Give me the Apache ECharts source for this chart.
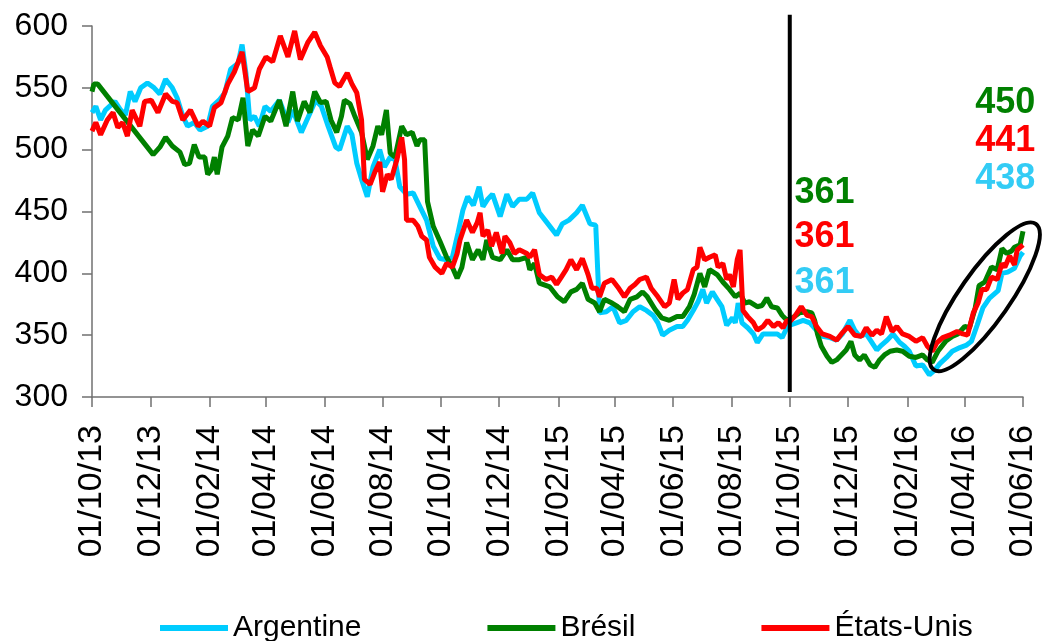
<!DOCTYPE html>
<html>
<head>
<meta charset="utf-8">
<script src="https://cdn.jsdelivr.net/npm/echarts@6/dist/echarts.min.js"></script>
<style>html,body{margin:0;padding:0;background:#fff}#chart{width:1043px;height:641px}</style>
</head>
<body>
<div id="chart"></div>
<script>
const seriesNames = ['Argentine', 'Brésil', 'États-Unis'];
const seriesColors = ['#00CCFF', '#008000', '#FF0000'];
const yTicks = [300, 350, 400, 450, 500, 550, 600];
const xTickDates = ['2013-10-01','2013-12-01','2014-02-01','2014-04-01','2014-06-01','2014-08-01','2014-10-01','2014-12-01','2015-02-01','2015-04-01','2015-06-01','2015-08-01','2015-10-01','2015-12-01','2016-02-01','2016-04-01','2016-06-01'];

const argentine = [
['2013-10-01',530],['2013-10-05',535],['2013-10-10',524],['2013-10-15',532],['2013-10-25',539],['2013-10-31',532],
['2013-11-05',528],['2013-11-10',547],['2013-11-15',539],['2013-11-21',550],['2013-11-28',554],['2013-12-05',550],
['2013-12-11',545],['2013-12-17',557],['2013-12-24',550],['2013-12-29',542],['2014-01-04',527],['2014-01-09',519],
['2014-01-16',522],['2014-01-22',516],['2014-01-30',519],['2014-02-04',535],['2014-02-11',540],['2014-02-17',546],
['2014-02-23',565],['2014-03-03',570],['2014-03-07',585],['2014-03-11',562],['2014-03-15',524],['2014-03-20',527],
['2014-03-25',519],['2014-03-31',535],['2014-04-06',531],['2014-04-15',540],['2014-04-24',522],['2014-04-29',532],
['2014-05-08',514],['2014-05-15',526],['2014-05-23',540],['2014-05-29',535],['2014-06-05',519],['2014-06-13',502],
['2014-06-17',500],['2014-06-25',519],['2014-06-30',512],['2014-07-05',489],['2014-07-10',476],['2014-07-16',462],
['2014-07-22',486],['2014-07-29',500],['2014-08-03',486],['2014-08-09',494],['2014-08-14',492],['2014-08-19',470],
['2014-08-26',464],['2014-09-02',465],['2014-09-09',454],['2014-09-16',443],['2014-09-23',422],['2014-09-30',412],
['2014-10-07',411],['2014-10-13',413],['2014-10-19',433],['2014-10-24',451],['2014-10-29',462],['2014-11-04',455],
['2014-11-10',470],['2014-11-14',454],['2014-11-19',460],['2014-11-24',464],['2014-12-02',446],['2014-12-09',464],
['2014-12-15',454],['2014-12-22',460],['2014-12-30',460],['2015-01-05',465],['2015-01-12',449],['2015-01-19',442],
['2015-01-30',431],['2015-02-05',440],['2015-02-12',443],['2015-02-20',449],['2015-02-26',455],['2015-03-06',440],
['2015-03-12',439],['2015-03-16',368],['2015-03-23',369],['2015-03-30',373],['2015-04-06',360],['2015-04-13',362],
['2015-04-20',369],['2015-04-27',373],['2015-05-04',370],['2015-05-11',366],['2015-05-16',360],['2015-05-21',350],
['2015-05-28',354],['2015-06-05',357],['2015-06-11',357],['2015-06-16',362],['2015-06-22',370],['2015-06-27',377],
['2015-07-02',387],['2015-07-06',376],['2015-07-12',385],['2015-07-17',379],['2015-07-22',373],['2015-07-27',358],
['2015-08-02',364],['2015-08-05',360],['2015-08-08',376],['2015-08-12',360],['2015-08-18',356],['2015-08-24',351],
['2015-08-28',344],['2015-09-03',351],['2015-09-10',351],['2015-09-18',351],['2015-09-23',348],['2015-09-28',356],
['2015-10-01',358],['2015-10-08',360],['2015-10-15',362],['2015-10-22',360],['2015-10-29',354],['2015-11-04',349],
['2015-11-12',348],['2015-11-19',346],['2015-11-25',351],['2015-12-03',362],['2015-12-08',354],['2015-12-13',349],
['2015-12-20',351],['2015-12-26',344],['2015-12-31',338],['2016-01-05',342],['2016-01-11',346],['2016-01-17',351],
['2016-01-24',344],['2016-01-29',341],['2016-02-03',337],['2016-02-10',325],['2016-02-17',326],['2016-02-24',318],
['2016-03-01',322],['2016-03-06',327],['2016-03-13',332],['2016-03-19',337],['2016-03-27',340],['2016-04-03',342],
['2016-04-08',345],['2016-04-14',358],['2016-04-20',372],['2016-04-27',380],['2016-05-06',386],['2016-05-10',400],
['2016-05-16',401],['2016-05-23',404],['2016-05-29',414],['2016-06-01',417]
];

const bresil = [
['2013-10-01',547],['2013-10-03',553],['2013-10-07',553],['2013-12-04',496],['2013-12-11',502],['2013-12-17',510],
['2013-12-24',503],['2014-01-01',498],['2014-01-06',488],['2014-01-11',489],['2014-01-16',504],['2014-01-21',494],
['2014-01-27',494],['2014-01-30',480],['2014-02-03',484],['2014-02-06',494],['2014-02-09',480],['2014-02-14',502],
['2014-02-20',511],['2014-02-25',526],['2014-03-03',524],['2014-03-08',542],['2014-03-13',503],['2014-03-18',516],
['2014-03-24',511],['2014-03-31',527],['2014-04-06',523],['2014-04-15',540],['2014-04-22',519],['2014-04-29',547],
['2014-05-04',523],['2014-05-11',539],['2014-05-17',530],['2014-05-22',547],['2014-05-28',538],['2014-06-03',539],
['2014-06-08',524],['2014-06-14',514],['2014-06-19',527],['2014-06-22',540],['2014-06-28',537],['2014-07-03',527],
['2014-07-10',514],['2014-07-16',492],['2014-07-22',503],['2014-07-27',519],['2014-07-31',512],['2014-08-05',532],
['2014-08-09',497],['2014-08-14',494],['2014-08-21',519],['2014-08-26',512],['2014-09-01',514],['2014-09-06',503],
['2014-09-09',508],['2014-09-14',508],['2014-09-17',458],['2014-09-23',438],['2014-09-30',426],['2014-10-07',413],
['2014-10-13',405],['2014-10-18',396],['2014-10-23',405],['2014-10-28',425],['2014-11-03',411],['2014-11-09',419],
['2014-11-14',411],['2014-11-18',427],['2014-11-24',413],['2014-12-02',411],['2014-12-09',419],['2014-12-15',411],
['2014-12-22',411],['2014-12-30',413],['2015-01-02',403],['2015-01-07',408],['2015-01-12',392],['2015-01-23',389],
['2015-01-31',381],['2015-02-07',377],['2015-02-14',385],['2015-02-20',387],['2015-02-26',392],['2015-03-04',379],
['2015-03-11',376],['2015-03-16',369],['2015-03-21',379],['2015-03-29',376],['2015-04-04',373],['2015-04-11',369],
['2015-04-17',379],['2015-04-24',381],['2015-04-30',385],['2015-05-05',381],['2015-05-13',371],['2015-05-20',364],
['2015-05-28',362],['2015-06-05',365],['2015-06-11',365],['2015-06-18',373],['2015-06-23',383],['2015-06-29',400],
['2015-07-04',389],['2015-07-09',403],['2015-07-17',399],['2015-07-23',393],['2015-07-30',387],['2015-08-05',381],
['2015-08-10',384],['2015-08-15',376],['2015-08-20',377],['2015-08-28',373],['2015-09-02',374],['2015-09-07',380],
['2015-09-12',373],['2015-09-18',372],['2015-09-23',366],['2015-09-28',362],['2015-10-04',364],['2015-10-11',368],
['2015-10-19',369],['2015-10-24',368],['2015-10-27',362],['2015-10-30',351],['2015-11-03',341],['2015-11-09',333],
['2015-11-14',328],['2015-11-19',330],['2015-11-24',334],['2015-11-29',338],['2015-12-04',345],['2015-12-08',334],
['2015-12-13',330],['2015-12-18',334],['2015-12-24',326],['2015-12-29',324],['2016-01-03',330],['2016-01-08',334],
['2016-01-14',337],['2016-01-21',338],['2016-01-27',337],['2016-02-03',333],['2016-02-10',332],['2016-02-17',334],
['2016-02-22',330],['2016-02-27',328],['2016-03-04',337],['2016-03-12',345],['2016-03-19',349],['2016-03-25',351],
['2016-04-01',357],['2016-04-06',356],['2016-04-12',372],['2016-04-16',390],['2016-04-22',393],['2016-04-29',405],
['2016-05-05',403],['2016-05-10',420],['2016-05-15',416],['2016-05-20',418],['2016-05-23',421],['2016-05-29',423],
['2016-06-01',434]
];

const etatsUnis = [
['2013-10-01',515],['2013-10-05',522],['2013-10-10',512],['2013-10-17',524],['2013-10-23',530],['2013-10-28',518],
['2013-11-02',522],['2013-11-07',511],['2013-11-12',532],['2013-11-20',519],['2013-11-25',539],['2013-12-02',540],
['2013-12-09',530],['2013-12-17',545],['2013-12-24',539],['2013-12-29',538],['2014-01-04',524],['2014-01-12',532],
['2014-01-20',519],['2014-01-25',523],['2014-02-01',519],['2014-02-06',534],['2014-02-13',538],['2014-02-20',553],
['2014-02-27',563],['2014-03-07',579],['2014-03-13',547],['2014-03-20',550],['2014-03-25',565],['2014-04-01',575],
['2014-04-08',571],['2014-04-16',592],['2014-04-24',575],['2014-05-01',596],['2014-05-07',573],['2014-05-15',587],
['2014-05-22',595],['2014-05-28',584],['2014-06-04',575],['2014-06-07',567],['2014-06-12',554],['2014-06-17',551],
['2014-06-25',562],['2014-06-30',553],['2014-07-05',546],['2014-07-10',524],['2014-07-13',476],['2014-07-19',472],
['2014-07-24',482],['2014-07-29',490],['2014-08-01',466],['2014-08-06',480],['2014-08-10',476],['2014-08-16',492],
['2014-08-21',510],['2014-08-24',492],['2014-08-26',443],['2014-09-02',443],['2014-09-07',438],['2014-09-11',430],
['2014-09-16',427],['2014-09-19',413],['2014-09-25',405],['2014-10-02',400],['2014-10-07',408],['2014-10-13',405],
['2014-10-18',416],['2014-10-21',427],['2014-10-28',443],['2014-11-03',433],['2014-11-08',441],['2014-11-11',449],
['2014-11-14',430],['2014-11-19',435],['2014-11-23',422],['2014-11-28',433],['2014-12-04',416],['2014-12-07',430],
['2014-12-12',425],['2014-12-17',416],['2014-12-22',419],['2014-12-30',416],['2015-01-02',413],['2015-01-07',419],
['2015-01-12',399],['2015-01-19',395],['2015-01-25',397],['2015-01-30',391],['2015-02-04',397],['2015-02-09',403],
['2015-02-14',411],['2015-02-20',403],['2015-02-26',412],['2015-03-04',399],['2015-03-08',388],['2015-03-13',388],
['2015-03-16',381],['2015-03-21',392],['2015-03-29',395],['2015-04-04',389],['2015-04-11',381],['2015-04-17',388],
['2015-04-22',391],['2015-04-27',395],['2015-05-04',397],['2015-05-09',388],['2015-05-16',381],['2015-05-23',373],
['2015-05-28',376],['2015-06-02',395],['2015-06-06',379],['2015-06-11',384],['2015-06-16',387],['2015-06-22',403],
['2015-06-26',405],['2015-06-29',421],['2015-07-04',411],['2015-07-09',413],['2015-07-15',415],['2015-07-18',405],
['2015-07-23',408],['2015-07-27',395],['2015-07-30',399],['2015-08-03',389],['2015-08-07',411],['2015-08-10',419],
['2015-08-13',370],['2015-08-18',365],['2015-08-24',360],['2015-08-28',354],['2015-09-03',357],['2015-09-08',362],
['2015-09-14',357],['2015-09-19',360],['2015-09-24',356],['2015-09-28',362],['2015-10-01',361],['2015-10-06',365],
['2015-10-13',373],['2015-10-19',366],['2015-10-24',365],['2015-10-29',357],['2015-11-04',351],['2015-11-12',349],
['2015-11-19',346],['2015-11-24',351],['2015-12-01',357],['2015-12-08',350],['2015-12-15',349],['2015-12-20',356],
['2015-12-26',350],['2015-12-31',354],['2016-01-05',351],['2016-01-10',365],['2016-01-16',353],['2016-01-21',357],
['2016-01-27',351],['2016-02-03',349],['2016-02-10',345],['2016-02-17',348],['2016-02-22',341],['2016-02-27',337],
['2016-03-03',344],['2016-03-09',348],['2016-03-16',350],['2016-03-24',353],['2016-03-30',351],['2016-04-04',350],
['2016-04-10',368],['2016-04-15',376],['2016-04-19',387],['2016-04-24',387],['2016-04-29',397],['2016-05-05',395],
['2016-05-10',408],['2016-05-13',405],['2016-05-18',414],['2016-05-23',407],['2016-05-26',419],['2016-06-01',423]
];

// annotations
const markerDate = '2015-10-01';
const markerRange = [304, 609];
const noteDates = ['2015-10-06','2015-10-06','2015-10-06','2016-04-12','2016-04-12','2016-04-12'];
const noteValues = [465, 429, 392, 538, 507, 476];
const noteTexts = ['361','361','361','450','441','438'];
const noteColors = ['#008000','#FF0000','#33CCF5','#008000','#FF0000','#33CCF5'];
const ellipseCenter = ['2016-04-22', 381];

const chart = echarts.init(document.getElementById('chart'), null, {renderer: 'canvas'});
const FONT = '"Liberation Sans", Arial, sans-serif';
const parse = s => echarts.number.parseDate(s).getTime();
const tickVals = xTickDates.map(parse);
const pad = n => (n < 10 ? '0' : '') + n;
const fmt = v => { const d = new Date(v); return pad(d.getDate()) + '/' + pad(d.getMonth() + 1) + '/' + pad(d.getFullYear() % 100); };
const toXY = arr => arr.map(p => [parse(p[0]), p[1]]);

const lineData = [argentine, bresil, etatsUnis];
const series = seriesNames.map((name, i) => ({
  name, type: 'line', data: toXY(lineData[i]), symbol: 'none', showSymbol: false,
  lineStyle: {color: seriesColors[i], width: 5}, itemStyle: {color: seriesColors[i]},
  z: 2 + i
}));
series.push({
  name: 'marker', type: 'line', data: [[parse(markerDate), markerRange[0]], [parse(markerDate), markerRange[1]]],
  symbol: 'none', clip: false, lineStyle: {color: '#000', width: 4}, z: 10
});
series.push({
  name: 'notes', type: 'scatter', symbolSize: 0, clip: false, z: 11,
  itemStyle: {opacity: 1},
  data: noteDates.map((d, i) => ({value: [parse(d), noteValues[i]], label: {formatter: noteTexts[i], color: noteColors[i]}})),
  label: {show: true, position: 'right', distance: 0, fontSize: 36, fontWeight: 'bold', fontFamily: FONT, verticalAlign: 'middle', opacity: 1}
});
series.push({
  name: 'ellipse', type: 'custom', data: [[parse(ellipseCenter[0]), ellipseCenter[1]]], z: 12, clip: false,
  renderItem: (params, api) => {
    const c = api.coord([api.value(0), api.value(1)]);
    return {type: 'ellipse', x: c[0], y: c[1], rotation: 55 * Math.PI / 180,
      shape: {cx: 0, cy: 0, rx: 89, ry: 25},
      style: {fill: 'none', stroke: '#000', lineWidth: 4}};
  }
});

chart.setOption({
  animation: false,
  backgroundColor: '#fff',
  grid: {left: 92, right: 20, top: 26, bottom: 244, containLabel: false},
  legend: {
    data: seriesNames.map((n, i) => ({name: n, icon: 'rect', itemStyle: {color: seriesColors[i]}})),
    left: 160, top: 613, itemWidth: 68, itemHeight: 6, itemGap: 126, padding: 0,
    textStyle: {fontSize: 30, fontFamily: FONT, color: '#000'}
  },
  xAxis: {
    type: 'value', min: tickVals[0], max: tickVals[tickVals.length - 1],
    axisLine: {lineStyle: {color: '#707070', width: 1.5}},
    axisTick: {show: true, length: 10, customValues: tickVals, lineStyle: {color: '#707070', width: 1.5}},
    axisLabel: {customValues: tickVals, rotate: 90, margin: 28, fontSize: 34, fontFamily: FONT, color: '#000', formatter: fmt},
    splitLine: {show: false}
  },
  yAxis: {
    type: 'value', min: yTicks[0], max: yTicks[yTicks.length - 1], interval: 50,
    axisLine: {show: true, lineStyle: {color: '#707070', width: 1.5}},
    axisTick: {show: true, length: 10, lineStyle: {color: '#707070', width: 1.5}},
    axisLabel: {margin: 24, fontSize: 32, fontFamily: FONT, color: '#000'},
    splitLine: {show: false}
  },
  series
});
</script>
</body>
</html>
